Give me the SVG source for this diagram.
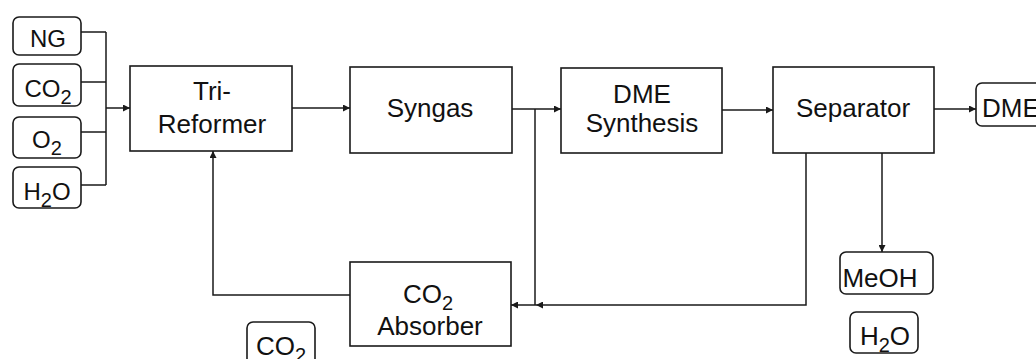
<svg xmlns="http://www.w3.org/2000/svg" width="1036" height="359" viewBox="0 0 1036 359">
<defs>
<style>
.box{fill:#fff;stroke:#1a1a1a;stroke-width:1.6}
.rbox{fill:#fff;stroke:#1a1a1a;stroke-width:1.6}
.t{font-family:"Liberation Sans",Arial,sans-serif;font-size:26px;fill:#111;text-anchor:middle}
.ti{font-family:"Liberation Sans",Arial,sans-serif;font-size:24px;fill:#111;text-anchor:middle}
.sub{font-size:20px}
.ln{fill:none;stroke:#1a1a1a;stroke-width:1.5}
</style>
<marker id="ah" viewBox="0 0 10 10" refX="10" refY="5" markerWidth="7" markerHeight="7" markerUnits="userSpaceOnUse" orient="auto">
<path d="M0,0 L10,5 L0,10 z" fill="#1a1a1a"/>
</marker>
</defs>
<rect width="1036" height="359" fill="#fff"/>

<g id="connectors">
<path class="ln" d="M81,32 H106 M81,82 H106 M81,132 H106 M81,185 H106 M106,32 V185"/>
<path class="ln" d="M106,108 H130" marker-end="url(#ah)"/>
<path class="ln" d="M292,108 H350" marker-end="url(#ah)"/>
<path class="ln" d="M512,109 H561" marker-end="url(#ah)"/>
<path class="ln" d="M535,109 V305"/>
<path class="ln" d="M722,110 H773" marker-end="url(#ah)"/>
<path class="ln" d="M934,109 H976" marker-end="url(#ah)"/>
<path class="ln" d="M806,153 V305 H536" marker-end="url(#ah)"/>
<path class="ln" d="M536,305 H511" marker-end="url(#ah)"/>
<path class="ln" d="M882,153 V252" marker-end="url(#ah)"/>
<path class="ln" d="M350,295 H213 V151" marker-end="url(#ah)"/>
</g>

<g id="ng"><rect class="rbox" x="13" y="17" width="68" height="38" rx="6"/><text class="ti" x="48" y="47">NG</text></g>
<g id="co2-in"><rect class="rbox" x="13" y="64" width="68" height="42" rx="6"/><text class="ti" x="48" y="97">CO<tspan class="sub" dy="7">2</tspan></text></g>
<g id="o2-in"><rect class="rbox" x="13" y="117" width="68" height="41" rx="6"/><text class="ti" x="47" y="148">O<tspan class="sub" dy="7">2</tspan></text></g>
<g id="h2o-in"><rect class="rbox" x="13" y="167" width="68" height="41" rx="6"/><text class="ti" x="47" y="200">H<tspan class="sub" dy="7">2</tspan><tspan dy="-7">O</tspan></text></g>

<g id="tri-reformer"><rect class="box" x="130" y="66" width="162" height="85"/><text class="t" x="212" y="100">Tri-</text><text class="t" x="212" y="133">Reformer</text></g>
<g id="syngas"><rect class="box" x="350" y="67" width="162" height="86"/><text class="t" x="430" y="117">Syngas</text></g>
<g id="dme-synthesis"><rect class="box" x="561" y="68" width="161" height="85"/><text class="t" x="642" y="103">DME</text><text class="t" x="642" y="132">Synthesis</text></g>
<g id="separator"><rect class="box" x="773" y="67" width="161" height="86"/><text class="t" x="853" y="117">Separator</text></g>
<g id="dme-out"><rect class="rbox" x="976" y="83" width="75" height="43" rx="6"/><text class="t" x="982" y="117" style="text-anchor:start">DME</text></g>
<g id="meoh"><rect class="rbox" x="840" y="252" width="93" height="42" rx="6"/><text class="t" x="880" y="287">MeOH</text></g>
<g id="h2o-out"><rect class="rbox" x="850" y="312" width="68" height="41" rx="6"/><text class="t" x="885" y="345">H<tspan class="sub" dy="7">2</tspan><tspan dy="-7">O</tspan></text></g>
<g id="co2-absorber"><rect class="box" x="350" y="262" width="161" height="84"/><text class="t" x="428" y="303">CO<tspan class="sub" dy="7">2</tspan></text><text class="t" x="430" y="335">Absorber</text></g>
<g id="co2-out"><rect class="rbox" x="247" y="322" width="68" height="48" rx="6"/><text class="t" x="281" y="355">CO<tspan class="sub" dy="7">2</tspan></text></g>
</svg>
